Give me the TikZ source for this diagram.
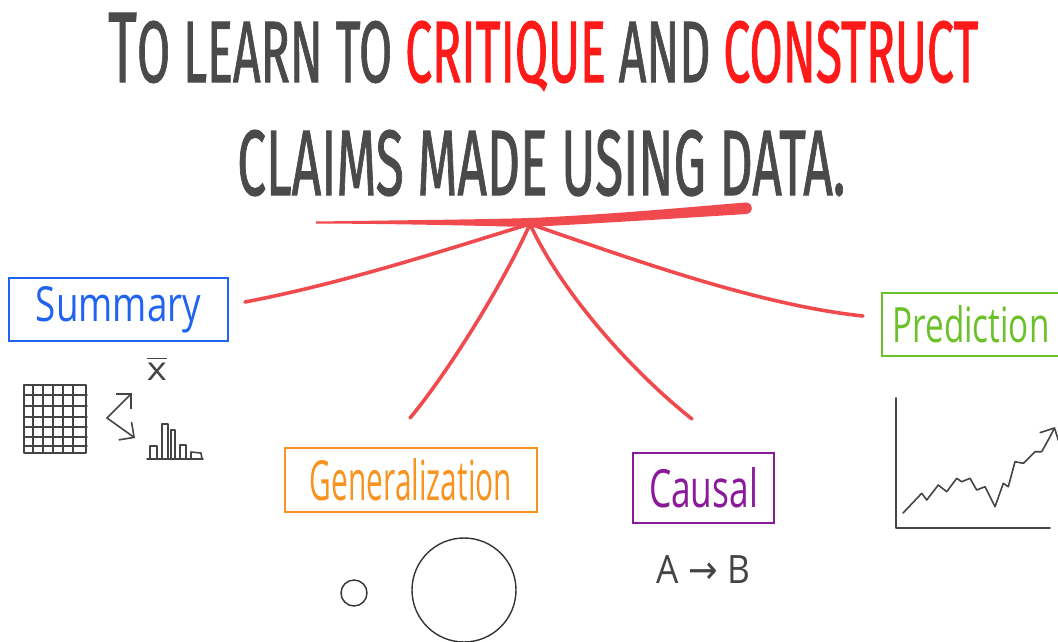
\documentclass[tikz,border=0pt]{standalone}
\usepackage{fontspec}
\setmainfont{Fira Sans}
\newfontfamily\titlefont{Fira Sans}[FakeBold=1.3]
\newfontfamily\handfont{Open Sans}
\newfontfamily\symfont{DejaVu Sans}
\usepackage{graphicx}
\usetikzlibrary{arrows.meta}
\definecolor{tgray}{HTML}{4A4A4A}
\definecolor{tred}{HTML}{FF1A1A}
\definecolor{lred}{HTML}{F04A4E}
\definecolor{sblue}{HTML}{1F63F0}
\definecolor{pgreen}{HTML}{6CC12A}
\definecolor{gorange}{HTML}{F7931E}
\definecolor{cpurple}{HTML}{8A1A99}
\definecolor{ink}{HTML}{444444}
\tikzset{
  labelbox/.style={draw, line width=2.2pt, inner sep=0pt},
  branch/.style={draw=lred, line width=3.6pt, line cap=round},
  icon/.style={draw=ink, line width=1.6pt, line cap=round, line join=round},
  barb/.style={-{Straight Barb[length=11pt,width=22pt,line width=1.6pt]}}
}
\begin{document}
\begin{tikzpicture}[x=1pt,y=-1pt]
\useasboundingbox (0,0) rectangle (1058,641);

% Title
\node[anchor=base west, inner sep=0pt, text=tgray] (title1) at (108,82)
  {\resizebox{870pt}{69pt}{\titlefont\fontsize{23}{23}\selectfont T\fontsize{20}{20}\selectfont O LEARN TO \textcolor{tred}{CRITIQUE} AND \textcolor{tred}{CONSTRUCT}}};
\node[anchor=base west, inner sep=0pt, text=tgray] (title2) at (237,195)
  {\resizebox{608pt}{65pt}{\titlefont\fontsize{20}{20}\selectfont CLAIMS MADE USING DATA.}};

% Red underline and hub
\coordinate (hub) at (530,224);
\fill[lred] (316,221.5) .. controls (420,220) and (480,219.5) .. (530,218)
  .. controls (620,214) and (700,206) .. (746,202.5) -- (746,214)
  .. controls (700,217) and (620,222) .. (530,227)
  .. controls (480,226) and (420,224) .. (316,223.5) -- cycle;
\fill[lred] (746,208.25) circle (5.75);

% Branch ends
\coordinate (eS) at (245,302);
\coordinate (eG) at (410,418);
\coordinate (eC) at (692,419);
\coordinate (eP) at (863,316);
\draw[branch] (hub) .. controls (460,245) and (350,282) .. (eS);
\draw[branch] (hub) .. controls (505,280) and (450,370) .. (eG);
\draw[branch] (hub) .. controls (560,290) and (630,370) .. (eC);
\draw[branch] (hub) .. controls (640,262) and (760,305) .. (eP);

% Boxes
\node[labelbox, draw=sblue, text=sblue, minimum width=219pt, minimum height=63pt] (summary) at (118.5,309.5)
  {\resizebox{165pt}{35pt}{\handfont Summary}};
\node[labelbox, draw=pgreen, text=pgreen, minimum width=178pt, minimum height=63pt] (prediction) at (971,324.5)
  {\resizebox{157pt}{37pt}{\handfont Prediction}};
\node[labelbox, draw=gorange, text=gorange, minimum width=252pt, minimum height=64pt] (general) at (411,480)
  {\resizebox{202pt}{42pt}{\handfont Generalization}};
\node[labelbox, draw=cpurple, text=cpurple, minimum width=141pt, minimum height=70pt] (causal) at (703.5,488)
  {\resizebox{109pt}{40pt}{\handfont Causal}};

% Summary icons: grid
\draw[icon] (24,385) rectangle (86,453);
\foreach \gx in {33,43,53,63,73}{\draw[icon] (\gx,385) -- (\gx,453);}
\foreach \gy in {395,406,417,427,437,446}{\draw[icon] (24,\gy) -- (87,\gy);}
% chevron arrows
\coordinate (chev) at (107,418);
\coordinate (chevU) at (132,393);
\coordinate (chevD) at (135,438);
\draw[icon, barb] (chev) -- (chevU);
\draw[icon, barb] (chev) -- (chevD);
% x bar
\node[text=ink, inner sep=0pt, anchor=south] (xbar) at (157,381)
  {\resizebox{20pt}{24pt}{$\overline{\hbox{\handfont x}}$}};
% bar chart
\draw[icon] (147,459) -- (203,459);
\draw[icon] (150,459) -- (150,446) -- (157,446) -- (157,459);
\draw[icon] (162,459) -- (162,424) -- (168,424) -- (168,459);
\draw[icon] (171,459) -- (171,430) -- (175,430) -- (175,459);
\draw[icon] (180,459) -- (180,445) -- (186,445) -- (186,459);
\draw[icon] (191,459) -- (191,452) -- (201,453) -- (202,459);

% Generalization circles
\draw[icon, draw=black!80, line width=1.4pt] (354,593) circle (13);
\draw[icon, draw=black!80, line width=1.4pt] (464,590) circle (52);

% Causal A -> B
\node[text=ink, inner sep=0pt, anchor=base] (ab) at (703.5,583)
  {\resizebox{93pt}{28pt}{\handfont A {\symfont →} B}};

% Prediction chart
\draw[icon] (896,398) -- (896,528) -- (1050,528);
\draw[icon, barb] (903,513) -- (921.7,493.3) -- (926.7,500) -- (938.3,485) -- (946.7,491.7)
  -- (956.7,478.3) -- (961.7,481.7) -- (970,478.3) -- (976.7,490) -- (985,486.7)
  -- (995,506.7) -- (1003.3,483.3) -- (1008.3,486.7) -- (1015,461.7) -- (1023.3,463.3)
  -- (1035,451.7) -- (1041.7,451.7) -- (1050,436.7) -- (1055,427);
\end{tikzpicture}
\end{document}
